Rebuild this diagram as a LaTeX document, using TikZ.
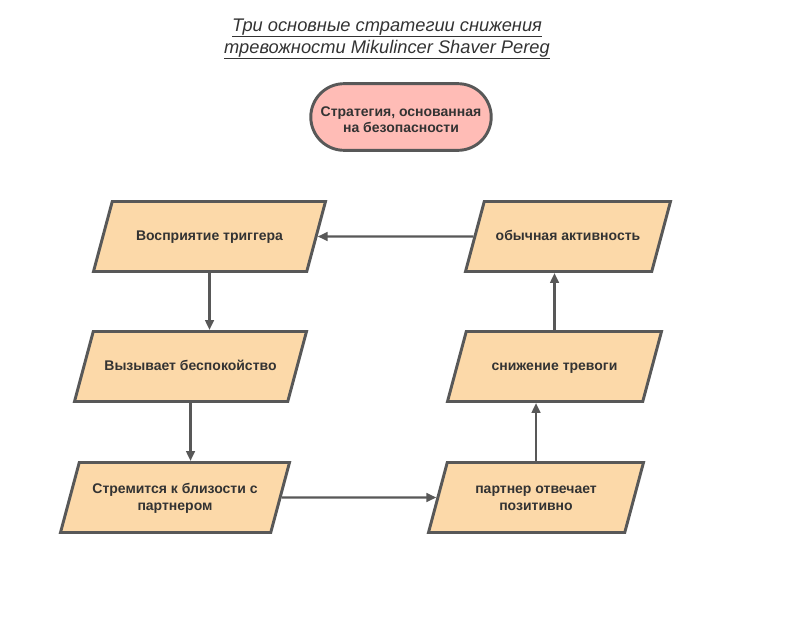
\documentclass[tikz,border=0pt]{standalone}
\usepackage{fontspec}
\setmainfont{Liberation Sans}
\usetikzlibrary{arrows.meta,shapes.geometric,shapes.misc}
\definecolor{boxfill}{RGB}{252,217,169}
\definecolor{startfill}{RGB}{255,188,182}
\definecolor{rim}{RGB}{88,88,88}
\definecolor{ink}{RGB}{51,51,51}
% fixed height text block, so the slant of the box does not depend on the text
\newcommand{\ptext}[1]{\vbox to 52.5pt{\vfil\kern1.5pt\hbox{\begin{tabular}{@{}c@{}}#1\end{tabular}}\vfil}}
% text in the start node, a little lower than its centre
\newcommand{\stext}[1]{\raisebox{-3pt}[\height][\depth]{\begin{tabular}{@{}c@{}}#1\end{tabular}}}

\begin{document}
\begin{tikzpicture}[x=0.75pt,y=0.75pt,
  para/.style={trapezium, trapezium left angle=75, trapezium right angle=105,
    trapezium stretches body, draw=rim, line width=2.2pt, fill=boxfill,
    inner xsep=2pt, inner ysep=0pt, minimum height=52.5pt, text=ink,
    font=\bfseries\fontsize{10.5}{12.7}\selectfont},
  start/.style={rounded rectangle, draw=rim, line width=2.2pt, fill=startfill,
    minimum width=142pt, minimum height=50pt, text=ink,
    font=\bfseries\fontsize{10.5}{12.2}\selectfont},
  flow/.style={draw=rim, line width=1.8pt, -{Triangle[length=7.5pt,width=6.5pt]}}]

\useasboundingbox (0,0) rectangle (800,-618);

\node (title) at (387,-39) [align=center, text=ink,
  font=\itshape\fontsize{13.7}{16.5}\selectfont]
  {\underline{Три основные стратегии снижения}\\
   \underline{тревожности Mikulincer Shaver Pereg}};

\node (start) at (401,-117) [start] {\stext{Стратегия, основанная\\на безопасности}};

\node (trig) at (209.5,-236.5) [para, minimum width=174pt] {\ptext{Восприятие триггера}};
\node (norm) at (568,-236.5) [para, minimum width=153.75pt] {\ptext{обычная активность}};
\node (anx)  at (190.5,-366.5) [para, minimum width=174pt] {\ptext{Вызывает беспокойство}};
\node (calm) at (554.5,-366.5) [para, minimum width=160.5pt] {\ptext{снижение тревоги}};
\node (seek) at (175,-497.5) [para, minimum width=171.75pt] {\ptext{Стремится к близости с\\партнером}};
\node (resp) at (536,-497.5) [para, minimum width=161.25pt] {\ptext{партнер отвечает\\позитивно}};

\draw[flow] (norm.west) -- (trig.east);
\draw[flow] (trig.south) -- (trig.south |- anx.north);
\draw[flow] (anx.south) -- (anx.south |- seek.north);
\draw[flow] (seek.east) -- (resp.west);
\draw[flow] (resp.north) -- (resp.north |- calm.south);
\draw[flow] (calm.north) -- (calm.north |- norm.south);

\end{tikzpicture}
\end{document}
